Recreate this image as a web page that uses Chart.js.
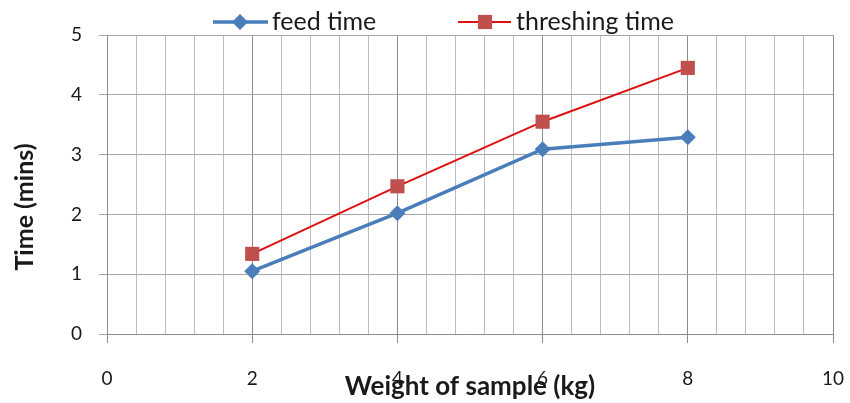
<!DOCTYPE html>
<html>
<head>
<meta charset="utf-8">
<script src="https://cdn.jsdelivr.net/npm/chart.js@4"></script>
<style>
  html, body { margin: 0; padding: 0; background: #fff; }
  #wrap { width: 850px; height: 403px; }
</style>
</head>
<body>
<div id="wrap"><canvas id="chart"></canvas></div>
<script>
// data
const weights = [2, 4, 6, 8];
const feedTime = [1.05, 2.02, 3.09, 3.29];
const threshingTime = [1.34, 2.47, 3.55, 4.45];
const seriesNames = ['feed time', 'threshing time'];
const xTitle = 'Weight of sample (kg)';
const yTitle = 'Time (mins)';

const FONT = 'Lato, "Open Sans", sans-serif';
const isMajor = v => Math.abs(v / 2 - Math.round(v / 2)) < 1e-6;

// Excel-style legend (line + marker) and rotated y title
const extras = {
    id: 'extras',
    afterDraw(chart) {
        const ctx = chart.ctx;
        const spots = [[213, 268, 240, 272], [458, 511, 485, 516]];
        chart.data.datasets.forEach((ds, i) => {
            const [x0, x1, mx, tx] = spots[i];
            const y = 22;
            ctx.save();
            ctx.strokeStyle = ds.borderColor;
            ctx.lineWidth = ds.borderWidth;
            ctx.beginPath();
            ctx.moveTo(x0, y);
            ctx.lineTo(x1, y);
            ctx.stroke();
            ctx.fillStyle = ds.pointBackgroundColor;
            ctx.strokeStyle = ds.pointBackgroundColor;
            Chart.helpers.drawPoint(ctx, {
                pointStyle: ds.pointStyle, radius: ds.pointRadius, rotation: 0, borderWidth: 0
            }, mx, y);
            ctx.fillStyle = '#1a1a1a';
            ctx.font = '25px ' + FONT;
            ctx.textBaseline = 'middle';
            ctx.textAlign = 'left';
            ctx.fillText(ds.label, tx, y);
            ctx.restore();
        });

        ctx.save();
        ctx.translate(25, 207);
        ctx.rotate(-Math.PI / 2);
        ctx.font = 'bold 25px ' + FONT;
        ctx.fillStyle = '#1a1a1a';
        ctx.textAlign = 'center';
        ctx.textBaseline = 'middle';
        ctx.fillText(yTitle, 0, 0);
        ctx.restore();
    }
};

new Chart(document.getElementById('chart'), {
    type: 'line',
    data: {
        datasets: [{
            label: seriesNames[0],
            data: weights.map((w, i) => ({ x: w, y: feedTime[i] })),
            borderColor: '#4a7ebb',
            borderWidth: 3.5,
            pointStyle: 'rectRot',
            pointRadius: 8,
            pointBackgroundColor: '#4a7ebb',
            pointBorderWidth: 0,
            order: 1
        }, {
            label: seriesNames[1],
            data: weights.map((w, i) => ({ x: w, y: threshingTime[i] })),
            borderColor: '#dd1111',
            borderWidth: 2,
            pointStyle: 'rect',
            pointRadius: 10,
            pointBackgroundColor: '#c0504d',
            pointBorderWidth: 0,
            order: 0
        }]
    },
    options: {
        responsive: true,
        maintainAspectRatio: false,
        animation: false,
        layout: { padding: { top: 35, right: 0, left: 0, bottom: 0 } },
        plugins: {
            legend: { display: false },
            tooltip: { enabled: false }
        },
        scales: {
            x: {
                type: 'linear',
                min: 0,
                max: 10,
                afterFit: s => {
                    s.height = 69;
                    s.paddingLeft = 0;
                    s.paddingRight = 17;
                },
                ticks: {
                    stepSize: 0.4,
                    autoSkip: false,
                    maxRotation: 0,
                    padding: 24,
                    color: '#1a1a1a',
                    font: { family: FONT, size: 19 },
                    callback: v => isMajor(v) ? String(Math.round(v)) : ''
                },
                grid: {
                    color: c => isMajor(c.tick.value) ? '#8c8c8c' : '#bdbdbd',
                    tickColor: c => isMajor(c.tick.value) ? '#8c8c8c' : 'rgba(0,0,0,0)',
                    tickLength: 9,
                    lineWidth: 1
                },
                border: { color: '#8c8c8c' },
                title: {
                    display: true,
                    text: xTitle,
                    color: '#1a1a1a',
                    font: { family: FONT, size: 26, weight: 'bold' },
                    padding: { top: 0, bottom: 1 }
                }
            },
            y: {
                min: 0,
                max: 5,
                afterFit: s => { s.width = 107; },
                ticks: {
                    stepSize: 1,
                    padding: 17,
                    color: '#1a1a1a',
                    font: { family: FONT, size: 19 }
                },
                grid: {
                    color: '#a6a6a6',
                    tickColor: '#a6a6a6',
                    tickLength: 8
                },
                border: { color: '#8c8c8c' }
            }
        }
    },
    plugins: [extras]
});
</script>
</body>
</html>
